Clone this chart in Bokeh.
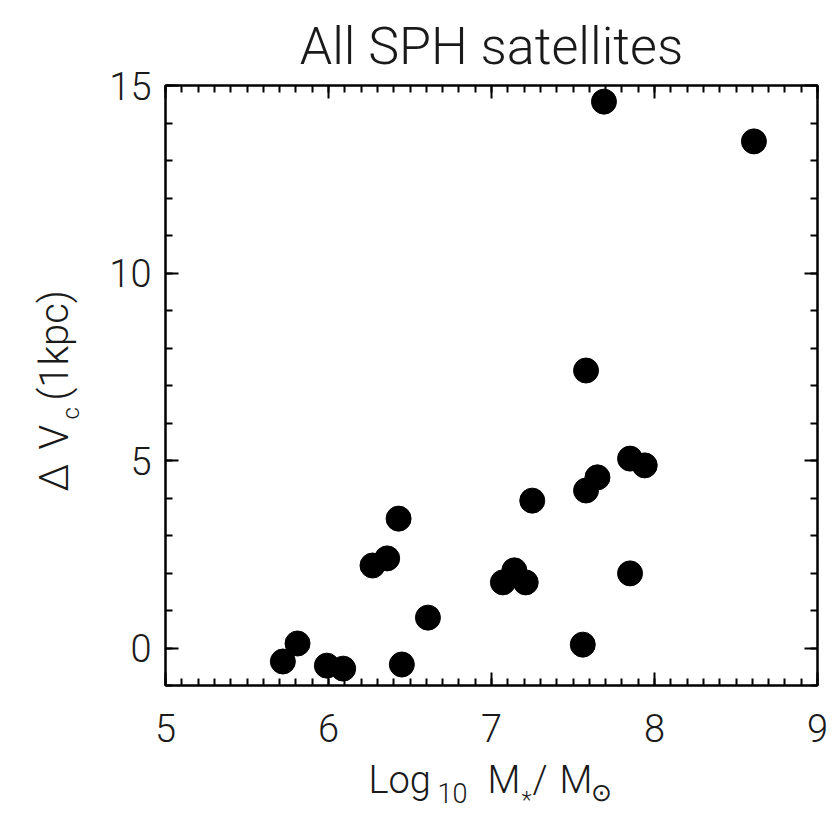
import numpy as np
from bokeh.plotting import figure
from bokeh.models import LinearAxis, FixedTicker, Range1d, Label, CustomLabelingPolicy
from bokeh.layouts import column, row
from bokeh.embed import file_html
from bokeh.resources import INLINE

# ---- data ----
log_mstar = [5.72, 5.81, 5.99, 6.09, 6.45, 6.27, 6.36, 6.43, 6.61, 7.07, 7.14,
             7.21, 7.25, 7.56, 7.58, 7.65, 7.58, 7.69, 8.61, 7.85, 7.85, 7.94]
delta_vc = [-0.36, 0.12, -0.47, -0.55, -0.44, 2.20, 2.39, 3.45, 0.81, 1.75, 2.07,
            1.75, 3.93, 0.09, 4.20, 4.55, 7.40, 14.57, 13.51, 1.99, 5.05, 4.87]

x_major = [5, 6, 7, 8, 9]
y_major = [0, 5, 10, 15]
x_minor = [round(v, 1) for v in np.arange(5.0, 9.01, 0.1)]
y_minor = list(range(-1, 16))

title_text = "All SPH satellites"

FONT = "Roboto Light, Lato Light, Liberation Sans"
TXT = "#1a1a1a"
K = 0.36  # em offset between Bokeh's label anchor and the drawn baseline

# ---- page layout (pixels) ----
W, H = 834, 814
FL, FR, FT, FB = 165, 817, 85, 685   # frame edges on the page
YLAB_W = 90           # y-label strip on the left
XLAB_H = 57           # x-label strip at the bottom
MAIN_W = W - YLAB_W
MAIN_H = H - XLAB_H
BT = FT                # top border of row plots
BB = MAIN_H - FB       # bottom border of row plots


def text_fig(w, h, top=0, bottom=0):
    f = figure(width=w, height=h, x_range=Range1d(0, 1), y_range=Range1d(0, 1),
               output_backend="svg", toolbar_location=None, tools="",
               min_border_left=0, min_border_right=0,
               min_border_top=top, min_border_bottom=bottom,
               x_axis_location=None, y_axis_location=None)
    f.outline_line_color = None
    f.background_fill_color = "white"
    f.border_fill_color = "white"
    f.xgrid.visible = False
    f.ygrid.visible = False
    return f


def lab(f, text, x, y, size, angle=0.0, align="left"):
    f.add_layout(Label(x=x, y=y, x_units="screen", y_units="screen",
                       text=text, text_font=FONT, text_font_size=f"{size}px",
                       text_color=TXT, text_align=align,
                       text_baseline="alphabetic", angle=angle))


def hlab(f, text, px, py, size, bottom_page, align="left"):
    # px, py: page position of the text's left (or centre) end on its baseline
    lab(f, text, px, bottom_page - (py - K * size), size, align=align)


def vlab(f, text, px, py, size, bottom_page):
    # rotated 90 deg: px = baseline x on the page, py = page y where text starts
    lab(f, text, px - K * size, bottom_page - py, size, angle=np.pi / 2)


# ---- y-label strip (page x 0..90), frame aligned with the main frame ----
yf = text_fig(YLAB_W, MAIN_H, top=BT, bottom=BB)
vlab(yf, "\u0394", 68, 491, 40, FB)
vlab(yf, "V", 68, 449, 40, FB)
vlab(yf, "c", 79, 419, 24, FB)
vlab(yf, "(1kpc)", 68, 400, 40, FB)

# ---- x-label strip (page y 757..814) ----
xf = text_fig(W, XLAB_H)
hlab(xf, "Log", 368, 793, 38, H)
hlab(xf, "10", 437, 802, 27, H)
hlab(xf, "M", 487, 793, 38, H)
hlab(xf, "*", 521, 808, 24, H)
hlab(xf, "/", 532, 793, 38, H)
hlab(xf, "M", 559, 793, 38, H)
hlab(xf, "\u2299", 590, 801, 25, H)

# ---- main plot: frame at page x 165..817, y 85..685 ----
p = figure(width=MAIN_W, height=MAIN_H,
           min_border_left=FL - YLAB_W, min_border_right=W - FR,
           min_border_top=BT, min_border_bottom=BB,
           x_range=Range1d(5, 9), y_range=Range1d(-1, 15),
           output_backend="svg", toolbar_location=None, tools="")
p.background_fill_color = "white"
p.border_fill_color = "white"
p.outline_line_color = "black"
p.outline_line_width = 2
p.xgrid.visible = False
p.ygrid.visible = False

p.title.text = title_text
p.title.text_font = FONT
p.title.text_font_size = "52px"
p.title.text_font_style = "normal"
p.title.text_color = TXT
p.title.align = "center"
p.title.offset = -3
p.title.standoff = 9

top_axis = LinearAxis()
right_axis = LinearAxis()
p.add_layout(top_axis, "above")
p.add_layout(right_axis, "right")

hide_all = CustomLabelingPolicy(code="return new Set()")


def style(ax, major, minor, labels=True):
    ax.ticker = FixedTicker(ticks=major, minor_ticks=minor)
    ax.axis_line_color = "black"
    ax.axis_line_width = 2
    ax.major_tick_in = 13
    ax.major_tick_out = 0
    ax.minor_tick_in = 7
    ax.minor_tick_out = 0
    ax.major_tick_line_width = 2
    ax.minor_tick_line_width = 2
    ax.major_tick_line_color = "black"
    ax.minor_tick_line_color = "black"
    if labels:
        ax.major_label_text_font = FONT
        ax.major_label_text_font_size = "38px"
        ax.major_label_text_color = TXT
    else:
        ax.major_label_text_font_size = "1px"
        ax.major_label_standoff = 0
        ax.major_label_policy = hide_all


for ax in p.xaxis:
    if ax is top_axis:
        style(ax, x_major, x_minor, labels=False)
    else:
        style(ax, x_major, x_minor)
        ax.major_label_standoff = 28
for ax in p.yaxis:
    if ax is right_axis:
        style(ax, y_major, y_minor, labels=False)
    else:
        style(ax, y_major, y_minor)
        ax.major_label_standoff = 14

p.scatter(log_mstar, delta_vc, size=25, color="black", line_color="black")

layout = column(row(yf, p, spacing=0), xf, spacing=0)

open("out.html", "w").write(file_html(layout, INLINE))
